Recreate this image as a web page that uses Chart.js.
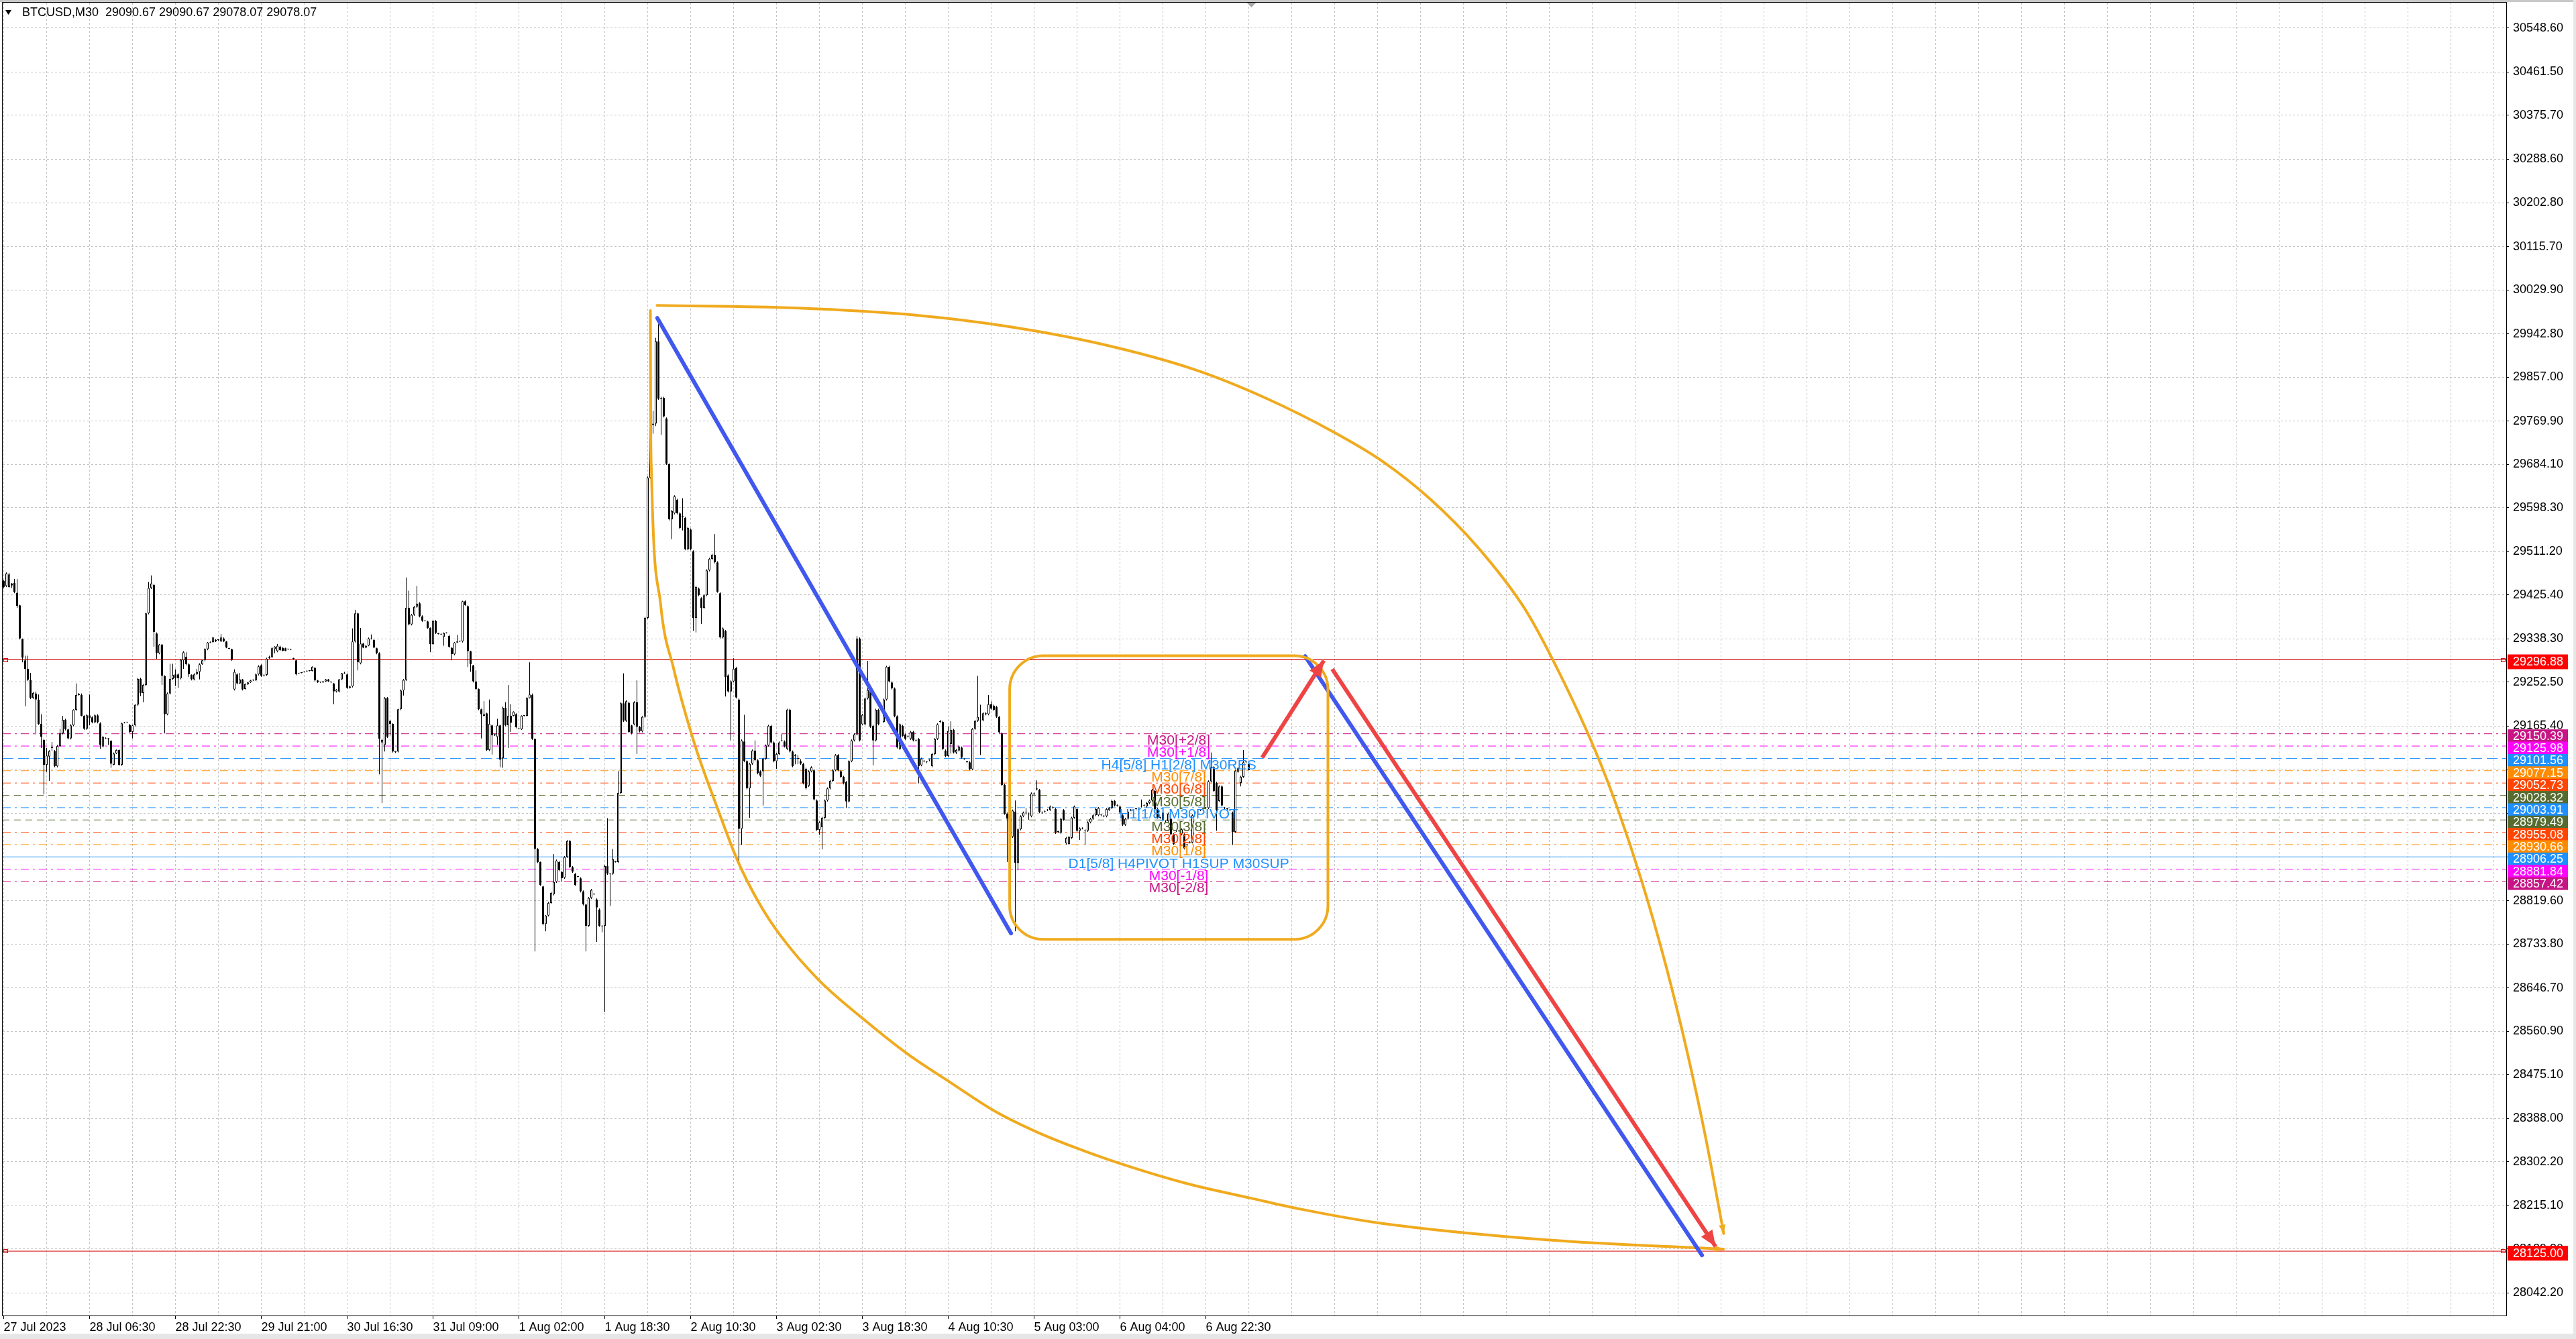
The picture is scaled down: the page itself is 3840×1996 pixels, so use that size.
<!DOCTYPE html>
<html>
<head>
<meta charset="utf-8">
<title>BTCUSD,M30</title>
<script src="https://cdn.jsdelivr.net/npm/chart.js@4.4.0/dist/chart.umd.min.js"></script>
<style>
html,body{margin:0;padding:0;background:#fff;overflow:hidden}
canvas{display:block}
</style>
</head>
<body>
<canvas id="chart" width="3840" height="1996" style="width:3840px;height:1996px"></canvas>
<script>
// M30 bars (oldest first)
const barOpen=[
29453,29443,29441,29448,29449,29430,29405,29338,29296,29279,
29257,29221,29230,29218,29170,29138,29089,29105,29123,29116,
29086,29126,29151,29178,29159,29141,29167,29198,29227,29227,
29186,29160,29187,29183,29173,29187,29171,29125,29142,29141,
29136,29089,29111,29118,29089,29172,29173,29168,29154,29167,
29208,29259,29231,29247,29389,29439,29445,29349,29310,29327,
29265,29189,29230,29259,29268,29268,29260,29296,29303,29288,
29267,29258,29268,29273,29288,29296,29318,29331,29332,29336,
29336,29333,29339,29333,29320,29318,29238,29268,29250,29258,
29239,29248,29252,29256,29256,29268,29286,29266,29267,29300,
29302,29318,29314,29323,29321,29320,29318,29318,29300,29296,
29270,29271,29272,29274,29275,29275,29281,29256,29252,29252,
29254,29258,29253,29250,29234,29234,29258,29270,29268,29241,
29244,29333,29389,29290,29329,29321,29325,29339,29336,29320,
29310,29133,29128,29221,29176,29170,29115,29115,29199,29236,
29257,29400,29367,29386,29402,29409,29383,29374,29373,29360,
29328,29374,29349,29348,29342,29350,29344,29321,29308,29331,
29333,29333,29413,29403,29314,29286,29254,29239,29199,29186,
29191,29118,29167,29147,29144,29167,29102,29202,29167,29186,
29186,29189,29161,29159,29186,29186,29221,29227,29140,28922,
28896,28848,28773,28790,28815,28832,28857,28896,28877,28865,
28906,28938,28886,28873,28867,28864,28838,28812,28770,28825,
28833,28822,28802,28770,28770,28888,28873,28873,28897,28896,
29033,29211,29176,29212,29167,29169,29213,29164,29155,29184,
29380,29658,29763,29765,29928,29814,29816,29775,29685,29575,
29587,29614,29587,29580,29578,29516,29555,29512,29380,29438,
29419,29400,29425,29474,29497,29505,29490,29429,29341,29354,
29266,29234,29254,29281,29218,28962,29135,29096,29042,29091,
29117,29098,29076,29076,29101,29127,29166,29133,29096,29110,
29136,29135,29120,29198,29115,29106,29102,29096,29091,29081,
29047,29076,29078,29018,28960,28965,28984,29018,29042,29057,
29078,29108,29076,29065,29055,29016,29096,29137,29149,29339,
29169,29169,29220,29240,29166,29137,29198,29203,29174,29218,
29283,29252,29240,29185,29120,29166,29149,29145,29140,29154,
29137,29140,29088,29096,29094,29098,29086,29110,29140,29174,
29174,29117,29106,29130,29158,29113,29117,29123,29101,29096,
29094,29080,29160,29176,29178,29177,29189,29189,29209,29206,
29204,29184,29151,29049,28992,28989,28946,28996,28894,28961,
28987,28994,28992,28987,29032,29040,29039,28995,28996,28999,
28999,29004,29001,28956,28954,28999,28933,28932,28944,28984,
29001,28958,28963,28958,28958,28975,28982,28989,28989,28990,
28988,28987,28999,29003,29017,29008,29006,28989,28970,28982,
28999,28999,29001,29001,29006,29008,29006,29013,29018,29037,
29001,28984,28980,28977,28977,28982,28951,28958,28958,28951,
28951,28930,28935,28935,28994,28994,28999,29001,29003,29003,
29056,29084,29053,29017,29046,29003,29001,28999,28994,28956,
29075,29053,29065,29094,29090.67];
const barHigh=[
29455,29470,29469,29449,29457,29457,29406,29339,29305,29305,
29271,29233,29234,29228,29189,29140,29122,29118,29134,29118,
29128,29160,29186,29180,29160,29169,29199,29250,29231,29230,
29187,29189,29228,29185,29189,29189,29173,29146,29143,29142,
29138,29113,29119,29119,29172,29174,29174,29170,29168,29209,
29261,29261,29249,29390,29451,29464,29447,29351,29328,29328,
29266,29232,29289,29289,29278,29270,29299,29314,29312,29290,
29268,29270,29279,29290,29297,29320,29332,29333,29342,29338,
29337,29348,29341,29334,29321,29319,29278,29270,29271,29259,
29250,29253,29257,29258,29270,29286,29288,29268,29301,29305,
29322,29324,29328,29325,29322,29321,29319,29319,29301,29297,
29271,29272,29274,29276,29276,29284,29283,29257,29253,29255,
29259,29259,29254,29251,29239,29259,29271,29273,29270,29245,
29359,29396,29390,29360,29330,29326,29341,29347,29338,29321,
29312,29140,29223,29223,29178,29171,29116,29200,29238,29259,
29460,29434,29388,29404,29443,29411,29385,29375,29374,29361,
29376,29376,29350,29349,29351,29351,29346,29322,29332,29346,
29334,29414,29415,29405,29315,29287,29276,29240,29200,29215,
29192,29218,29168,29150,29180,29168,29204,29213,29247,29209,
29195,29191,29162,29187,29187,29223,29292,29230,29141,28924,
28897,28849,28791,28817,28837,28912,28901,28898,28878,28908,
28940,28940,28888,28875,28868,28866,28840,28813,28827,28843,
28834,28824,28804,28771,28890,28983,28874,28922,28898,29076,
29213,29270,29217,29214,29168,29215,29256,29166,29186,29382,
29660,29770,29790,29935,29962,29818,29818,29777,29686,29594,
29623,29616,29589,29617,29580,29560,29557,29514,29443,29440,
29421,29427,29476,29499,29507,29546,29492,29431,29361,29356,
29268,29256,29300,29283,29220,29139,29188,29098,29093,29119,
29137,29100,29078,29103,29129,29168,29168,29135,29112,29135,
29150,29137,29200,29200,29117,29110,29108,29100,29093,29083,
29078,29086,29080,29020,28977,28986,29020,29044,29059,29080,
29110,29110,29078,29067,29057,29098,29139,29151,29344,29341,
29190,29222,29295,29242,29168,29200,29200,29205,29220,29285,
29285,29254,29242,29187,29171,29168,29151,29147,29156,29156,
29139,29142,29103,29098,29096,29100,29112,29142,29171,29178,
29176,29119,29165,29175,29160,29120,29127,29125,29102,29097,
29096,29162,29178,29265,29208,29193,29193,29227,29215,29208,
29206,29186,29153,29051,28994,28996,29000,29018,28963,28989,
28996,29003,28994,29034,29034,29058,29041,28996,28998,29001,
29008,29006,29003,28958,28984,29001,28946,28948,28986,29008,
29003,28965,28965,28961,28977,28984,28991,29003,29005,28991,
28989,29003,29005,29020,29019,29010,29008,28991,28984,28998,
29001,29001,29003,29003,29020,29010,29015,29020,29041,29039,
29003,28986,28996,28979,28994,28984,28953,28960,28960,28963,
28953,28932,28937,28991,28996,28996,29001,29003,29005,29058,
29113,29086,29055,29048,29048,29005,29003,29001,28996,29079,
29084,29067,29118,29096,29090.67];
const barLow=[
29438,29441,29440,29439,29429,29400,29337,29292,29205,29255,
29219,29219,29149,29168,29122,29030,29075,29057,29116,29084,
29084,29124,29149,29157,29139,29139,29165,29196,29226,29185,
29158,29158,29167,29171,29171,29171,29120,29123,29140,29128,
29083,29088,29110,29087,29087,29171,29172,29152,29141,29165,
29206,29225,29213,29245,29387,29437,29323,29299,29308,29247,
29151,29187,29228,29257,29245,29241,29258,29279,29286,29263,
29256,29256,29267,29258,29287,29294,29316,29330,29330,29332,
29334,29332,29332,29320,29318,29295,29236,29248,29249,29236,
29238,29247,29251,29255,29255,29266,29263,29264,29265,29299,
29301,29310,29312,29315,29314,29314,29317,29316,29298,29266,
29269,29270,29272,29273,29274,29274,29254,29251,29251,29251,
29253,29253,29251,29209,29232,29232,29257,29269,29239,29240,
29242,29331,29276,29288,29320,29320,29324,29337,29320,29308,
29070,29013,29115,29142,29147,29113,29112,29113,29197,29226,
29255,29365,29365,29384,29400,29381,29372,29373,29358,29312,
29326,29348,29347,29346,29325,29349,29321,29296,29306,29330,
29332,29331,29404,29283,29273,29252,29237,29197,29141,29185,
29116,29116,29109,29146,29128,29084,29083,29165,29122,29154,
29185,29161,29159,29158,29185,29185,29220,29138,28719,28894,
28849,28771,28759,28788,28813,28830,28855,28878,28857,28863,
28904,28884,28875,28849,28866,28836,28810,28719,28768,28823,
28831,28738,28768,28757,28599,28871,28809,28871,28895,28894,
29031,29174,29174,29152,29149,29167,29110,29153,29153,29182,
29378,29656,29745,29760,29812,29743,29777,29683,29573,29536,
29585,29585,29556,29553,29514,29514,29514,29354,29351,29423,
29368,29398,29423,29472,29495,29488,29430,29339,29339,29224,
29232,29137,29252,29220,28892,28930,29094,29040,28984,29089,
29096,29070,29065,29008,29099,29125,29131,29094,29081,29108,
29135,29123,29118,29113,29084,29090,29090,29089,29050,29040,
29045,29074,29018,28958,28950,28921,28982,29016,29040,29055,
29076,29076,29063,29050,29003,29014,29094,29135,29147,29135,
29167,29167,29218,29162,29088,29135,29167,29201,29172,29216,
29252,29238,29183,29121,29118,29144,29138,29143,29138,29135,
29135,29052,29086,29094,29092,29096,29084,29108,29138,29172,
29118,29104,29104,29111,29111,29110,29115,29101,29099,29092,
29078,29078,29158,29174,29108,29175,29187,29187,29198,29196,
29182,29151,29047,28990,28896,28985,28944,28759,28880,28959,
28985,28990,28980,28985,29028,29038,28993,28992,28994,28997,
28997,29002,28952,28954,28952,28978,28931,28930,28942,28982,
28956,28940,28961,28930,28956,28973,28980,28987,28987,28987,
28985,28985,28997,29001,29006,29006,28992,28968,28968,28980,
28997,28996,28999,28998,29004,29006,29004,29011,29016,28999,
28982,28982,28978,28975,28975,28949,28930,28956,28956,28949,
28921,28928,28933,28933,28992,28992,28997,28999,29001,29001,
29054,29035,28958,29015,29006,29001,28999,28997,28930,28954,
29073,29046,29063,29092,29078.07];
const barClose=[
29441,29468,29466,29444,29431,29404,29339,29301,29279,29257,
29221,29231,29218,29170,29144,29089,29107,29116,29122,29086,
29126,29151,29178,29159,29141,29167,29198,29227,29229,29186,
29160,29187,29181,29173,29187,29173,29128,29144,29141,29139,
29091,29111,29118,29089,29171,29173,29173,29154,29167,29208,
29259,29231,29247,29389,29439,29448,29352,29310,29327,29265,
29189,29230,29259,29267,29260,29260,29297,29312,29288,29268,
29258,29268,29273,29288,29296,29318,29331,29332,29341,29333,
29336,29341,29333,29321,29319,29297,29273,29250,29258,29238,
29249,29252,29256,29257,29268,29284,29265,29267,29299,29302,
29320,29323,29325,29316,29315,29315,29318,29317,29299,29268,
29270,29271,29273,29275,29275,29283,29256,29252,29252,29254,
29258,29254,29252,29234,29238,29258,29270,29271,29241,29244,
29333,29389,29292,29329,29321,29325,29339,29338,29321,29310,
29140,29138,29221,29144,29170,29115,29114,29199,29236,29257,
29400,29367,29386,29402,29408,29383,29374,29374,29360,29328,
29374,29350,29348,29347,29350,29350,29323,29308,29331,29333,
29333,29413,29405,29314,29288,29254,29239,29199,29189,29189,
29118,29170,29147,29149,29167,29099,29202,29167,29186,29172,
29194,29163,29160,29186,29186,29221,29228,29140,28922,28896,
28851,28773,28790,28815,28835,28857,28899,28880,28864,28906,
28938,28886,28877,28851,28867,28838,28812,28770,28825,28841,
28832,28806,28770,28769,28888,28873,28872,28902,28896,29033,
29211,29176,29215,29154,29151,29213,29164,29155,29184,29380,
29658,29763,29765,29928,29814,29816,29779,29685,29575,29592,
29621,29587,29558,29582,29516,29558,29516,29380,29441,29425,
29400,29425,29474,29497,29505,29490,29432,29341,29359,29263,
29234,29254,29279,29222,28962,29137,29096,29042,29091,29117,
29098,29072,29067,29101,29127,29166,29133,29096,29110,29133,
29137,29125,29198,29115,29086,29106,29101,29091,29052,29042,
29076,29084,29020,28960,28975,28984,29018,29042,29057,29078,
29108,29078,29065,29052,29016,29096,29137,29149,29339,29137,
29188,29220,29237,29164,29137,29198,29169,29203,29218,29283,
29254,29240,29185,29123,29169,29146,29140,29145,29154,29137,
29137,29086,29101,29096,29094,29098,29110,29140,29169,29174,
29120,29106,29156,29158,29113,29118,29125,29103,29100,29094,
29080,29160,29176,29184,29177,29191,29191,29209,29200,29198,
29184,29153,29049,28992,28982,28989,28998,28894,28961,28987,
28994,28994,28991,29032,29030,29042,28995,28994,28996,28999,
29006,29004,28954,28956,28982,28980,28944,28946,28984,29006,
28958,28963,28963,28959,28975,28982,28989,29001,29003,28989,
28987,29001,29003,29017,29008,29008,28994,28970,28982,28996,
28999,28998,29001,29000,29006,29008,29013,29018,29039,29001,
28984,28984,28994,28977,28992,28951,28932,28958,28958,28961,
28923,28930,28935,28989,28994,28994,28999,29001,29003,29056,
29084,29037,28999,29046,29008,29003,29001,28999,28956,29077,
29082,29065,29094,29094,29078.07];

// time labels every 32 bars, price axis ticks
const timeLabels=['27 Jul 2023','28 Jul 06:30','28 Jul 22:30','29 Jul 21:00','30 Jul 16:30','31 Jul 09:00','1 Aug 02:00','1 Aug 18:30','2 Aug 10:30','3 Aug 02:30','3 Aug 18:30','4 Aug 10:30','5 Aug 03:00','6 Aug 04:00','6 Aug 22:30'];
const priceTicks=[30548.6,30461.5,30375.7,30288.6,30202.8,30115.7,30029.9,29942.8,29857.0,29769.9,29684.1,29598.3,29511.2,29425.4,29338.3,29252.5,29165.4,29079.6,28992.6,28906.7,28819.6,28733.8,28646.7,28560.9,28475.1,28388.0,28302.2,28215.1,28129.3,28042.2];

// Murrey levels and horizontal lines
const levelPrices=[29150.39,29125.98,29101.56,29077.15,29052.73,29028.32,29003.91,28979.49,28955.08,28930.66,28906.25,28881.84,28857.42];
const levelNames=['M30[+2/8]','M30[+1/8]','H4[5/8] H1[2/8] M30RES','M30[7/8]','M30[6/8]','M30[5/8]','H1[1/8] M30PIVOT','M30[3/8]','M30[2/8]','M30[1/8]','D1[5/8] H4PIVOT H1SUP M30SUP','M30[-1/8]','M30[-2/8]'];
const hLinePrices=[29296.88,28125.00];
const lastQuote=[29090.67,29090.67,29078.07,29078.07];

// drawn objects, in (bar index, price)
const blueLines=[[243.6,29974,375.4,28755],[485,29304,632.9,28117]];
const redArrows=[[469,29103,492,29295.5],[495.1,29278.5,638,28134]];
const arcTopIdx=[243.5,295,341.5,373.6,408.7,443.8,470.1,496.4,513.9,531.5,549,566.5,577.1,592.8,601.6,610.4,619.2,627.2,634.2,641];
const arcTopPrice=[29999,29994,29979,29958,29923,29872,29816,29746,29690,29616,29522,29401,29299,29121,29000,28859,28696,28524,28352,28160];
const arcLowIdx=[241.0,241.1,241.4,244.8,249.6,257.6,265.5,273.5,281.5,289.4,303.8,321.3,337.3,353.2,369.2,385.1,401,417,440.9,464.8,483.6,512.4,576.1,640.9];
const arcLowPrice=[29989,29787,29670,29408,29281,29128,29010,28899,28815,28751,28662,28581,28514,28458,28403,28361,28327,28297,28259,28230,28208,28181,28147,28129];
const boxCorners=[374.9,29305,493.5,28743];

// ---- styles ----
const FONT="'Liberation Sans', Arial, sans-serif";
const X_MIN=-0.375, X_MAX=932.625, Y_MIN=27997.5, Y_MAX=30599;
const LABEL_X=437.9;
const ORANGE='#F0AA1E', BLUE='#4058EE', RED='#EE4444', HRED='#D40000';
const levelColors=['#C71585','#FF00FF','#1E90FF','#FF8C00','#FF4500','#556B2F','#1E90FF','#556B2F','#FF4500','#FF8C00','#1E90FF','#FF00FF','#C71585'];
const DASHDOT=[12,6,3,6], DASH=[16,7], SHORTDASH=[10,7];
const levelDash=[DASHDOT,DASHDOT,DASH,DASHDOT,DASHDOT,SHORTDASH,DASHDOT,SHORTDASH,DASHDOT,DASHDOT,[],DASHDOT,DASHDOT];

const n=Math.min(barOpen.length,barHigh.length,barLow.length,barClose.length);
const idx=[...Array(n).keys()];
const pts=(xs,ys)=>xs.map((x,i)=>({x,y:ys[i]}));
const seg=(x1,y1,x2,y2)=>[{x:x1,y:y1},{x:x2,y:y2}];

const datasets=[];
levelPrices.forEach((p,k)=>datasets.push({type:'line',data:seg(X_MIN,p,X_MAX,p),borderColor:levelColors[k],borderWidth:1,borderDash:levelDash[k],pointRadius:0,order:60}));
hLinePrices.forEach(p=>datasets.push({type:'line',data:seg(X_MIN,p,X_MAX,p),borderColor:HRED,borderWidth:1,pointRadius:0,order:55}));
datasets.push({type:'bar',data:idx.map(i=>({x:i,y:[barLow[i],barHigh[i]]})),backgroundColor:'#000',borderWidth:0,barThickness:1,maxBarThickness:1,grouped:false,inflateAmount:0,order:50});
datasets.push({type:'bar',data:idx.map(i=>({x:i,y:[Math.min(barOpen[i],barClose[i]),Math.max(barOpen[i],barClose[i])]})),
  backgroundColor:idx.map(i=>barClose[i]<barOpen[i]?'#000':'#fff'),borderColor:'#000',borderWidth:1,borderSkipped:false,
  barThickness:3,maxBarThickness:3,minBarLength:1,grouped:false,inflateAmount:0,order:45});
[[arcTopIdx,arcTopPrice],[arcLowIdx,arcLowPrice]].forEach(([ax,ay])=>datasets.push({type:'line',data:pts(ax,ay),borderColor:ORANGE,borderWidth:4,
  cubicInterpolationMode:'monotone',pointRadius:0,borderCapStyle:'round',order:30,arrowHead:[13,5]}));
blueLines.forEach(l=>datasets.push({type:'line',data:seg(...l),borderColor:BLUE,borderWidth:6,pointRadius:0,borderCapStyle:'round',order:20}));
redArrows.forEach(l=>datasets.push({type:'line',data:seg(...l),borderColor:RED,borderWidth:6,pointRadius:0,borderCapStyle:'butt',order:10,arrowHead:[24,10]}));

const overlay={
  id:'overlay',
  beforeDraw(c){const g=c.ctx;g.save();g.fillStyle='#fff';g.fillRect(0,0,c.width,c.height);g.restore();},
  afterDatasetsDraw(c){
    const g=c.ctx,xs=c.scales.x,ys=c.scales.y,a=c.chartArea;
    g.save();
    g.beginPath();g.rect(a.left,a.top,a.right-a.left,a.bottom-a.top);g.clip();
    // rounded box
    const x1=xs.getPixelForValue(boxCorners[0]),y1=ys.getPixelForValue(boxCorners[1]);
    const x2=xs.getPixelForValue(boxCorners[2]),y2=ys.getPixelForValue(boxCorners[3]);
    const r=50;
    g.strokeStyle=ORANGE;g.lineWidth=4;g.beginPath();
    g.moveTo(x1+r,y1);g.arcTo(x2,y1,x2,y2,r);g.arcTo(x2,y2,x1,y2,r);g.arcTo(x1,y2,x1,y1,r);g.arcTo(x1,y1,x2,y1,r);
    g.closePath();g.stroke();
    // arrow heads
    c.data.datasets.forEach((ds,i)=>{
      if(!ds.arrowHead)return;
      const el=c.getDatasetMeta(i).data;const p=el[el.length-1],q=el[el.length-2];
      let qx=q.x,qy=q.y;
      if(p.cp1x!==undefined&&Math.abs(p.cp1x-p.x)+Math.abs(p.cp1y-p.y)>1){qx=p.cp1x;qy=p.cp1y;}
      const t=Math.atan2(p.y-qy,p.x-qx),[L,W]=ds.arrowHead,ct=Math.cos(t),st=Math.sin(t);
      g.fillStyle=ds.borderColor;g.beginPath();g.moveTo(p.x,p.y);
      g.lineTo(p.x-L*ct+W*st,p.y-L*st-W*ct);g.lineTo(p.x-L*ct-W*st,p.y-L*st+W*ct);g.closePath();g.fill();
    });
    // level captions
    g.font='21px '+FONT;g.textAlign='center';g.textBaseline='top';
    const lx=xs.getPixelForValue(LABEL_X);
    levelPrices.forEach((p,k)=>{g.fillStyle=levelColors[k];g.fillText(levelNames[k],lx,ys.getPixelForValue(p));});
    // hline end markers
    g.strokeStyle=HRED;g.lineWidth=1;
    hLinePrices.forEach(p=>{const y=Math.round(ys.getPixelForValue(p));g.strokeRect(a.left+1.5,y-2.5,6,5);g.strokeRect(a.right-7.5,y-2.5,6,5);});
    g.restore();
  },
  afterDraw(c){
    const g=c.ctx,ys=c.scales.y,xs=c.scales.x,a=c.chartArea,W=c.width,H=c.height;
    g.save();
    // window edges
    g.fillStyle='#c8c8c8';g.fillRect(0,0,W,3);
    g.fillStyle='#e6e6e6';g.fillRect(W-4,0,4,H);g.fillRect(0,H-8,W,8);
    // frame
    g.strokeStyle='#000';g.lineWidth=1;
    g.strokeRect(a.left-0.5,a.top-0.5,a.right-a.left+1,a.bottom-a.top+1);
    // shift marker
    const mx=xs.getPixelForValue(n);
    g.fillStyle='#a8a8a8';g.beginPath();g.moveTo(mx-7,a.top);g.lineTo(mx+7,a.top);g.lineTo(mx,a.top+7);g.closePath();g.fill();
    // price boxes on the axis
    g.font='18px '+FONT;g.textAlign='left';g.textBaseline='middle';
    const bx=a.right+2,tx=a.right+10;
    levelPrices.forEach((p,k)=>{const y=ys.getPixelForValue(p)+3;g.fillStyle=levelColors[k];g.fillRect(bx,y-9.5,90,19);g.fillStyle='#fff';g.fillText(p.toFixed(2),tx,y+1);});
    hLinePrices.forEach(p=>{const y=ys.getPixelForValue(p)+3;g.fillStyle='#FF0000';g.fillRect(bx,y-11,90,22);g.fillStyle='#fff';g.fillText(p.toFixed(2),tx,y+1);});
    // title
    g.fillStyle='#000';g.beginPath();g.moveTo(8,15);g.lineTo(17,15);g.lineTo(12.5,22);g.closePath();g.fill();
    g.font='18px '+FONT;g.textBaseline='middle';
    g.fillText('BTCUSD,M30  '+lastQuote.map(v=>v.toFixed(2)).join(' '),33,19);
    g.restore();
  }
};

Chart.defaults.font.family=FONT;
new Chart(document.getElementById('chart'),{
  type:'bar',
  data:{datasets},
  options:{
    responsive:false,devicePixelRatio:1,animation:false,events:[],normalized:true,
    layout:{padding:{left:4,top:4,right:0,bottom:0},autoPadding:false},
    plugins:{legend:{display:false},tooltip:{enabled:false}},
    elements:{point:{radius:0}},
    scales:{
      x:{type:'linear',min:X_MIN,max:X_MAX,offset:false,
        afterBuildTicks:s=>{const t=[];for(let v=0;v<=X_MAX;v+=16)t.push({value:v});s.ticks=t;},
        afterFit:s=>{s.height=35;s.paddingLeft=0;s.paddingRight=0;},
        grid:{offset:false,color:'#c4c4c4',lineWidth:1,drawTicks:true,tickLength:5,tickBorderDash:[],
          tickColor:ctx=>(ctx.tick&&ctx.tick.value%32===0&&ctx.tick.value/32<timeLabels.length)?'#000':'rgba(0,0,0,0)'},
        border:{display:false,dash:[3,3]},
        ticks:{autoSkip:false,maxRotation:0,minRotation:0,align:'start',padding:2,color:'#000',font:{family:FONT,size:18},
          callback:v=>{const k=v/32;return (Number.isInteger(k)&&k<timeLabels.length)?timeLabels[k]:'';}}},
      y:{position:'right',min:Y_MIN,max:Y_MAX,beginAtZero:false,
        afterBuildTicks:s=>{s.ticks=priceTicks.map(v=>({value:v}));},
        afterFit:s=>{s.width=104;s.paddingTop=0;s.paddingBottom=0;},
        grid:{color:'#c4c4c4',lineWidth:1,drawTicks:true,tickLength:4,tickColor:'#000',tickBorderDash:[]},
        border:{display:false,dash:[3,3]},
        ticks:{autoSkip:false,padding:6,color:'#000',font:{family:FONT,size:18},callback:v=>v.toFixed(2)}}
    }
  },
  plugins:[overlay]
});
</script>
</body>
</html>
